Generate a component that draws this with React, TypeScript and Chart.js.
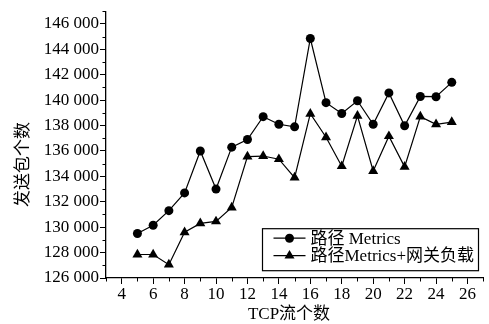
import React, { useEffect, useRef } from "react";
import { Chart, registerables } from "chart.js";

Chart.register(...registerables);

const tcpFlows = [5, 6, 7, 8, 9, 10, 11, 12, 13, 14, 15, 16, 17, 18, 19, 20, 21, 22, 23, 24, 25];
const pathMetrics = [129500, 130150, 131300, 132700, 136000, 133000, 136300, 136900, 138700, 138100, 137900, 144850, 139800, 138950, 139950, 138100, 140570, 137980, 140290, 140270, 141400];
const pathMetricsGateway = [127850, 127850, 127050, 129600, 130300, 130450, 131550, 135550, 135600, 135350, 133900, 138930, 137080, 134800, 138770, 134420, 137160, 134750, 138700, 138100, 138270];

const xMajorTicks = [4, 6, 8, 10, 12, 14, 16, 18, 20, 22, 24, 26];
const xMinorTicks = [3, 5, 7, 9, 11, 13, 15, 17, 19, 21, 23, 25, 27];
const yMajorTicks = [126000, 128000, 130000, 132000, 134000, 136000, 138000, 140000, 142000, 144000, 146000];
const yMinorTicks = [127000, 129000, 131000, 133000, 135000, 137000, 139000, 141000, 143000, 145000, 147000];

const seriesNames = ["路径 Metrics", "路径Metrics+网关负载"];
const xTitle = "TCP流个数";
const yTitle = "发送包个数";

const FONT = "'Liberation Serif', 'Noto Sans CJK SC', serif";

function fmt(v: number) {
  const s = String(Math.round(v));
  return s.slice(0, s.length - 3) + " " + s.slice(s.length - 3);
}

const decorPlugin = {
  id: "decor",
  afterDraw(chart: any) {
    const ctx = chart.ctx;
    const xs = chart.scales.x;
    const ys = chart.scales.y;
    const ca = chart.chartArea;
    ctx.save();
    ctx.strokeStyle = "#000";
    ctx.lineWidth = 1;
    // minor ticks
    xMinorTicks.forEach((v) => {
      const px = Math.round(xs.getPixelForValue(v)) + 0.5;
      ctx.beginPath();
      ctx.moveTo(px, ca.bottom);
      ctx.lineTo(px, ca.bottom + 3.5);
      ctx.stroke();
    });
    yMinorTicks.forEach((v) => {
      const py = Math.round(ys.getPixelForValue(v)) + 0.5;
      ctx.beginPath();
      ctx.moveTo(ca.left, py);
      ctx.lineTo(ca.left - 3.5, py);
      ctx.stroke();
    });
    // titles
    ctx.fillStyle = "#000";
    ctx.font = `17px ${FONT}`;
    ctx.textAlign = "center";
    ctx.textBaseline = "middle";
    ctx.fillText(xTitle, ca.left + 183, ca.bottom + 37);
    ctx.save();
    ctx.translate(24, (ca.top + ca.bottom) / 2 + 20);
    ctx.rotate(-Math.PI / 2);
    ctx.fillText(yTitle, 0, 0);
    ctx.restore();
    // legend
    const bx = ca.left + 156.5;
    const by = ca.top + 217.5;
    const bw = 216;
    const bh = 42;
    ctx.fillStyle = "#fff";
    ctx.fillRect(bx, by, bw, bh);
    ctx.strokeStyle = "#000";
    ctx.lineWidth = 1.2;
    ctx.strokeRect(bx, by, bw, bh);
    const rows = [by + 9.5, by + 27];
    rows.forEach((ry, i) => {
      ctx.lineWidth = 1.2;
      ctx.beginPath();
      ctx.moveTo(bx + 11, ry);
      ctx.lineTo(bx + 43, ry);
      ctx.stroke();
      const cx = bx + 27;
      ctx.fillStyle = "#000";
      ctx.beginPath();
      if (i === 0) {
        ctx.arc(cx, ry, 4.5, 0, Math.PI * 2);
      } else {
        const r = 5.8;
        ctx.moveTo(cx, ry - r);
        ctx.lineTo(cx + r * 0.866, ry + r * 0.5);
        ctx.lineTo(cx - r * 0.866, ry + r * 0.5);
        ctx.closePath();
      }
      ctx.fill();
      ctx.font = `17px ${FONT}`;
      ctx.textAlign = "left";
      ctx.textBaseline = "middle";
      ctx.fillText(seriesNames[i], bx + 48, ry + 1);
    });
    ctx.restore();
  },
};

export default function App() {
  const ref = useRef<HTMLCanvasElement>(null);
  useEffect(() => {
    document.body.style.margin = "0";
    const c = new Chart(ref.current!, {
      type: "line",
      data: {
        datasets: [
          {
            label: seriesNames[0],
            data: tcpFlows.map((x, i) => ({ x, y: pathMetrics[i] })),
            borderColor: "#000",
            backgroundColor: "#000",
            borderWidth: 1.2,
            pointStyle: "circle",
            pointRadius: 4.5,
            pointBorderWidth: 0,
            tension: 0,
          },
          {
            label: seriesNames[1],
            data: tcpFlows.map((x, i) => ({ x, y: pathMetricsGateway[i] })),
            borderColor: "#000",
            backgroundColor: "#000",
            borderWidth: 1.2,
            pointStyle: "triangle",
            pointRadius: 5.8,
            pointBorderWidth: 0,
            tension: 0,
          },
        ],
      },
      options: {
        animation: false,
        responsive: true,
        maintainAspectRatio: false,
        layout: { padding: { top: 4, right: 2.4, left: 0, bottom: 0 } },
        plugins: { legend: { display: false }, tooltip: { enabled: false } },
        scales: {
          x: {
            type: "linear",
            min: 3,
            max: 27,
            afterBuildTicks: (s: any) => {
              s.ticks = xMajorTicks.map((v) => ({ value: v }));
            },
            afterFit: (s: any) => {
              s.height = 46;
            },
            grid: { display: true, drawOnChartArea: false, drawTicks: true, tickLength: 6, color: "#000", lineWidth: 1 },
            border: { display: true, color: "#000", width: 1.3 },
            ticks: { color: "#000", font: { family: FONT, size: 17 }, padding: 0, maxRotation: 0, autoSkip: false },
          },
          y: {
            type: "linear",
            min: 126000,
            max: 147000,
            afterBuildTicks: (s: any) => {
              s.ticks = yMajorTicks.map((v) => ({ value: v }));
            },
            afterFit: (s: any) => {
              s.width = 106;
            },
            grid: { display: true, drawOnChartArea: false, drawTicks: true, tickLength: 6, color: "#000", lineWidth: 1 },
            border: { display: true, color: "#000", width: 1.3 },
            ticks: {
              color: "#000",
              font: { family: FONT, size: 17 },
              padding: 1,
              autoSkip: false,
              callback: (v: any) => fmt(Number(v)),
            },
          },
        },
      },
      plugins: [decorPlugin],
    });
    return () => c.destroy();
  }, []);
  return (
    <div style={{ position: "fixed", left: 0, top: 0, width: 489, height: 324, background: "#fff" }}>
      <canvas ref={ref} />
    </div>
  );
}
